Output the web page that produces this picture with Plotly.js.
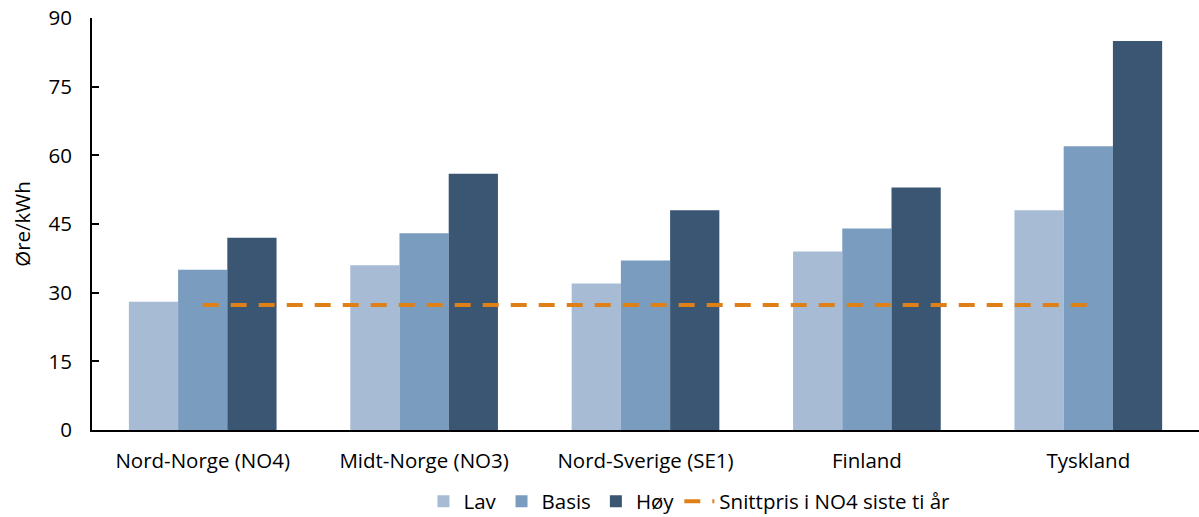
<!DOCTYPE html>
<html><head><meta charset="utf-8">
<script src="https://cdn.plot.ly/plotly-3.0.1.min.js"></script>
<style>body{margin:0;background:#fff}#c{width:1199px;height:517px}</style>
</head><body><div id="c"></div>
<script>
const categories = ["Nord-Norge (NO4)", "Midt-Norge (NO3)", "Nord-Sverige (SE1)", "Finland", "Tyskland"];
const lav = [28, 36, 32, 39, 48];
const basis = [35, 43, 37, 44, 62];
const hoy = [42, 56, 48, 53, 85];
const snitt = [27.3, 27.3, 27.3, 27.3, 27.3];
const yTicks = [0, 15, 30, 45, 60, 75, 90];

const font = {family: "'Open Sans', Lato, sans-serif", size: 20.5, color: "#000"};
const traces = [
  {type: "bar", name: "Lav", x: categories, y: lav, marker: {color: "#A7BCD4"}},
  {type: "bar", name: "Basis", x: categories, y: basis, marker: {color: "#7A9CBF"}},
  {type: "bar", name: "Høy", x: categories, y: hoy, marker: {color: "#3A5673"}},
  {type: "scatter", mode: "lines", name: "Snittpris i NO4 siste ti år", x: categories, y: snitt,
   line: {color: "#DF8017", width: 4, dash: "16px,12px"}}
];
const layout = {
  width: 1199, height: 517,
  margin: {l: 92, r: 0, t: 18, b: 87, autoexpand: false},
  paper_bgcolor: "#fff", plot_bgcolor: "#fff",
  font: font,
  barmode: "group", bargap: 0.333, bargroupgap: 0,
  showlegend: true,
  legend: {orientation: "h", x: 0.575, xanchor: "center", xref: "container",
           y: 0.03, yanchor: "middle", yref: "container",
           font: font, traceorder: "normal", itemwidth: 30},
  xaxis: {type: "category", showline: true, linecolor: "#000", linewidth: 2, ticks: "", automargin: false,
          showgrid: false, zeroline: false, ticklabelstandoff: 11, tickfont: font},
  yaxis: {range: [0, 90], tickvals: yTicks, ticktext: yTicks.map(String), showline: true, linecolor: "#000",
          linewidth: 2, ticks: "inside", ticklen: 7, tickwidth: 2, tickcolor: "#000", showgrid: false,
          zeroline: false, tickfont: font, ticklabelstandoff: 14, automargin: false,
          title: {text: "Øre/kWh", font: font, standoff: 12}}
};
Plotly.newPlot("c", traces, layout, {displayModeBar: false, staticPlot: true});
</script></body></html>
